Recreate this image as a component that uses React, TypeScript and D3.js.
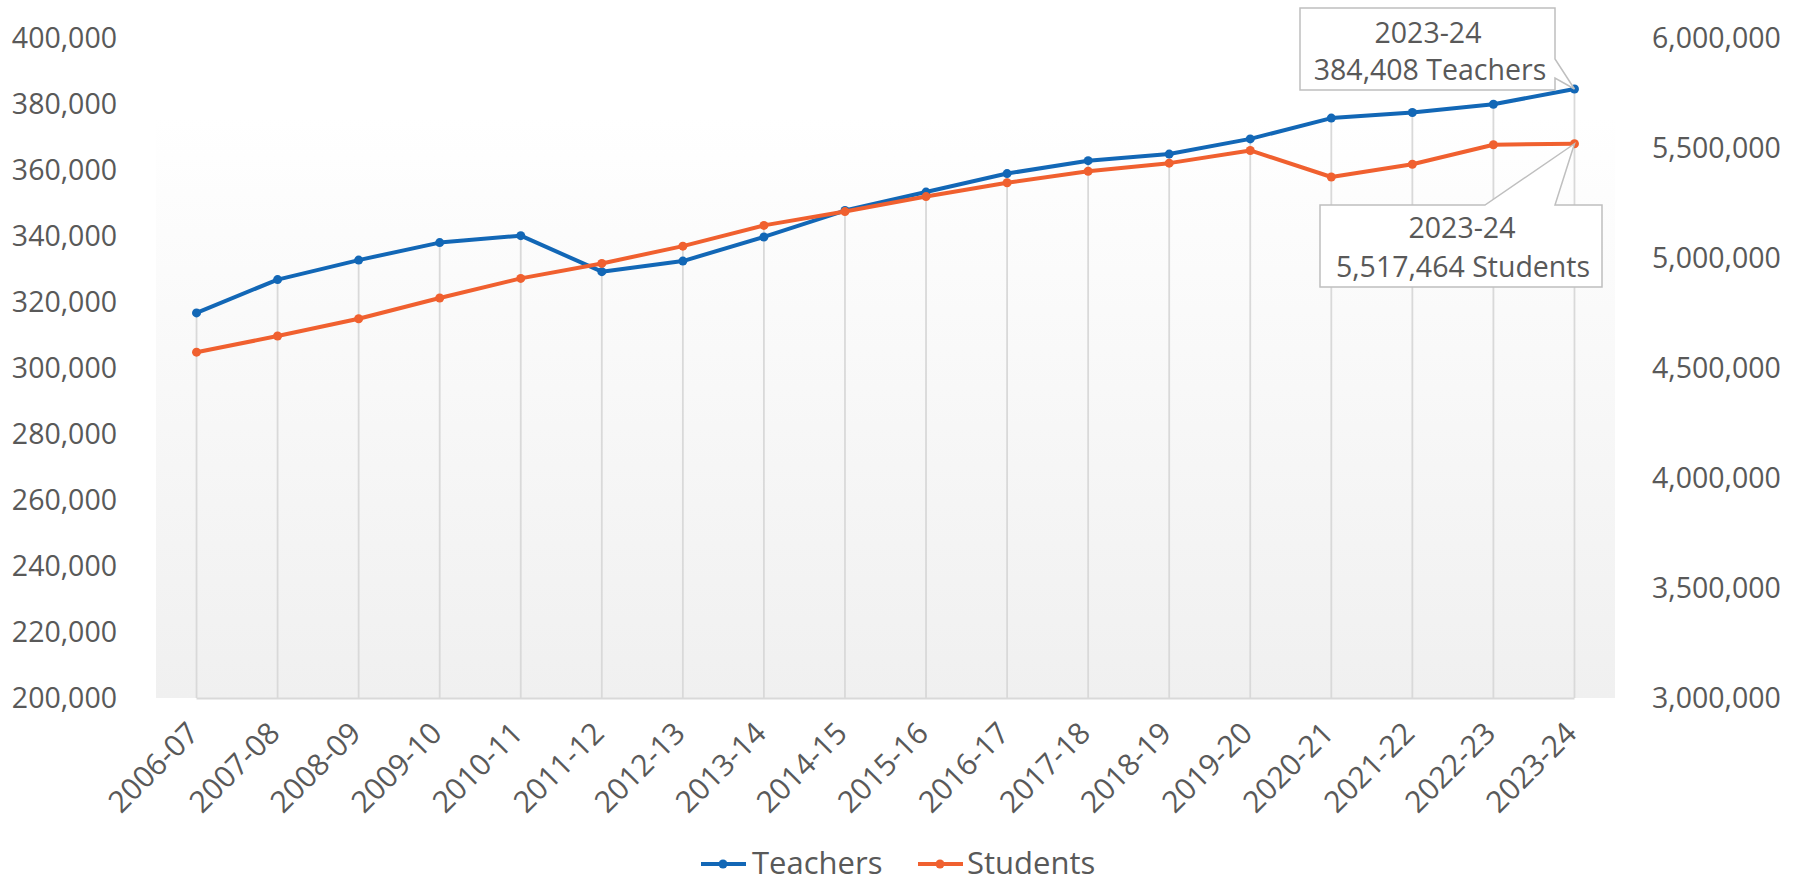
import React from "react";
import * as d3 from "d3";

const categories = [
  "2006-07", "2007-08", "2008-09", "2009-10", "2010-11", "2011-12",
  "2012-13", "2013-14", "2014-15", "2015-16", "2016-17", "2017-18",
  "2018-19", "2019-20", "2020-21", "2021-22", "2022-23", "2023-24",
];
const teachers = [
  316600, 326700, 332600, 337900, 340000, 329100, 332300, 339600, 347600,
  353200, 358800, 362700, 364700, 369300, 375600, 377300, 379800, 384408,
];
const students = [
  4570700, 4644000, 4722500, 4816800, 4905800, 4973800, 5052400, 5146600,
  5209400, 5277500, 5340300, 5392700, 5429300, 5486900, 5366500, 5424100,
  5513100, 5517464,
];
const leftTicks = [200000, 220000, 240000, 260000, 280000, 300000, 320000, 340000, 360000, 380000, 400000];
const rightTicks = [3000000, 3500000, 4000000, 4500000, 5000000, 5500000, 6000000];
const seriesNames = ["Teachers", "Students"];
const calloutTeacher = ["2023-24", "384,408 Teachers"];
const calloutStudent = ["2023-24", "5,517,464 Students"];

const W = 1808;
const H = 882;
const plotLeft = 156;
const plotRight = 1615;
const plotTop = 37.5;
const plotBottom = 698;
const BLUE = "#1267b6";
const ORANGE = "#f0602f";
const TEXT = "#595959";
const FONT = "'Open Sans', 'Liberation Sans', Arial, sans-serif";
const fmt = d3.format(",");

export default function App() {
  const x = d3.scalePoint<string>().domain(categories).range([plotLeft, plotRight]).padding(0.5);
  const yL = d3.scaleLinear().domain([200000, 400000]).range([plotBottom, plotTop]);
  const yR = d3.scaleLinear().domain([3000000, 6000000]).range([plotBottom, plotTop]);

  const lineT = d3.line<number>().x((_, i) => x(categories[i])!).y((d) => yL(d));
  const lineS = d3.line<number>().x((_, i) => x(categories[i])!).y((d) => yR(d));

  const lastX = x(categories[categories.length - 1])!;
  const tY = yL(teachers[teachers.length - 1]);
  const sY = yR(students[students.length - 1]);

  return (
    <svg width={W} height={H} style={{ position: "absolute", left: 0, top: 0, background: "#fff" }} fontFamily={FONT}>
      <defs>
        <linearGradient id="bg" x1="0" y1="0" x2="0" y2="1">
          <stop offset="0" stopColor="#ffffff" />
          <stop offset="0.12" stopColor="#ffffff" />
          <stop offset="1" stopColor="#f0f0f0" />
        </linearGradient>
      </defs>
      <rect x={plotLeft} y={plotTop} width={plotRight - plotLeft} height={plotBottom - plotTop} fill="url(#bg)" />

      {/* drop lines */}
      {categories.map((c, i) => {
        const top = Math.min(yL(teachers[i]), yR(students[i]));
        return <line key={c} x1={x(c)} x2={x(c)} y1={top} y2={plotBottom} stroke="#d9d9d9" strokeWidth={1.8} />;
      })}
      <line x1={x(categories[0])} x2={lastX} y1={plotBottom + 0.5} y2={plotBottom + 0.5} stroke="#d9d9d9" strokeWidth={2} />

      {/* series */}
      <path d={lineT(teachers)!} fill="none" stroke={BLUE} strokeWidth={4} strokeLinejoin="round" />
      {teachers.map((v, i) => (
        <circle key={"t" + i} cx={x(categories[i])} cy={yL(v)} r={4.5} fill={BLUE} />
      ))}
      <path d={lineS(students)!} fill="none" stroke={ORANGE} strokeWidth={4} strokeLinejoin="round" />
      {students.map((v, i) => (
        <circle key={"s" + i} cx={x(categories[i])} cy={yR(v)} r={4.5} fill={ORANGE} />
      ))}

      {/* callouts */}
      <path
        d={`M1300,8 H1555 V59 L${lastX},${tY} L1555,78 V90 H1300 Z`}
        fill="#fff"
        stroke="#bfbfbf"
        strokeWidth={1.5}
      />
      <text x={1428} y={43} textAnchor="middle" fontSize={28.5} fill={TEXT}>{calloutTeacher[0]}</text>
      <text x={1430} y={80} textAnchor="middle" fontSize={28.5} fill={TEXT}>{calloutTeacher[1]}</text>

      <path
        d={`M1320,205 H1485 L${lastX},${sY} L1555,205 H1602 V287 H1320 Z`}
        fill="#fff"
        stroke="#bfbfbf"
        strokeWidth={1.5}
      />
      <text x={1462} y={238} textAnchor="middle" fontSize={28.5} fill={TEXT}>{calloutStudent[0]}</text>
      <text x={1463} y={277} textAnchor="middle" fontSize={28.5} fill={TEXT}>{calloutStudent[1]}</text>

      {/* left axis */}
      {leftTicks.map((t) => (
        <text key={t} x={117} y={yL(t) + 10} textAnchor="end" fontSize={28.5} fill={TEXT}>{fmt(t)}</text>
      ))}
      {/* right axis */}
      {rightTicks.map((t) => (
        <text key={t} x={1652} y={yR(t) + 10} textAnchor="start" fontSize={28.5} fill={TEXT}>{fmt(t)}</text>
      ))}
      {/* x axis labels */}
      {categories.map((c) => (
        <text
          key={c}
          transform={`translate(${x(c)! + 4},${plotBottom + 37}) rotate(-45)`}
          textAnchor="end"
          fontSize={30}
          fill={TEXT}
        >
          {c}
        </text>
      ))}

      {/* legend */}
      <line x1={701} x2={746} y1={864} y2={864} stroke={BLUE} strokeWidth={4} />
      <circle cx={723} cy={864} r={4.5} fill={BLUE} />
      <text x={752} y={873.5} fontSize={31} fill={TEXT}>{seriesNames[0]}</text>
      <line x1={918} x2={963} y1={864} y2={864} stroke={ORANGE} strokeWidth={4} />
      <circle cx={940} cy={864} r={4.5} fill={ORANGE} />
      <text x={967} y={873.5} fontSize={31} fill={TEXT}>{seriesNames[1]}</text>
    </svg>
  );
}
